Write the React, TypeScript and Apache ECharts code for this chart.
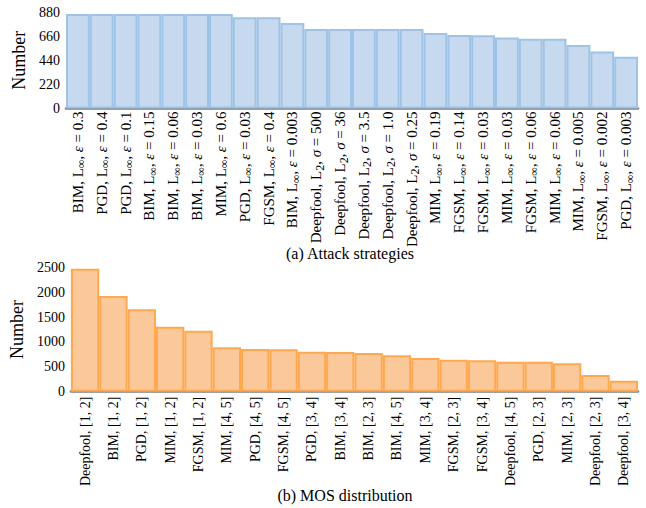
import React, { useEffect, useRef } from "react";
import * as echarts from "echarts";

// (a) Attack strategies
const attackMethods = ["BIM", "PGD", "PGD", "BIM", "BIM", "BIM", "MIM", "PGD", "FGSM", "BIM", "Deepfool", "Deepfool", "Deepfool", "Deepfool", "Deepfool", "MIM", "FGSM", "FGSM", "MIM", "FGSM", "MIM", "MIM", "FGSM", "PGD"];
const attackNorms = ["∞", "∞", "∞", "∞", "∞", "∞", "∞", "∞", "∞", "∞", "2", "2", "2", "2", "2", "∞", "∞", "∞", "∞", "∞", "∞", "∞", "∞", "∞"];
const attackParams = ["0.3", "0.4", "0.1", "0.15", "0.06", "0.03", "0.6", "0.03", "0.4", "0.003", "500", "36", "3.5", "1.0", "0.25", "0.19", "0.14", "0.03", "0.03", "0.06", "0.06", "0.005", "0.002", "0.003"];
const attackValues = [862, 862, 862, 862, 862, 862, 862, 831, 831, 780, 725, 725, 725, 725, 725, 688, 670, 668, 648, 636, 636, 578, 520, 471];

// (b) MOS distribution
const mosCategories = ["Deepfool, [1, 2]", "BIM, [1, 2]", "PGD, [1, 2]", "MIM, [1, 2]", "FGSM, [1, 2]", "MIM, [4, 5]", "PGD, [4, 5]", "FGSM, [4, 5]", "PGD, [3, 4]", "BIM, [3, 4]", "BIM, [2, 3]", "BIM, [4, 5]", "MIM, [3, 4]", "FGSM, [2, 3]", "FGSM, [3, 4]", "Deepfool, [4, 5]", "PGD, [2, 3]", "MIM, [2, 3]", "Deepfool, [2, 3]", "Deepfool, [3, 4]"];
const mosValues = [2470, 1924, 1656, 1307, 1226, 892, 858, 852, 805, 800, 778, 731, 677, 643, 631, 603, 603, 571, 336, 221];

const attackTicks = [0, 220, 440, 660, 880];
const mosTicks = [0, 500, 1000, 1500, 2000, 2500];

const FONT = "Liberation Serif";

export default function App() {
  const ref = useRef<HTMLDivElement>(null);
  useEffect(() => {
    const chart = echarts.init(ref.current!, undefined, { renderer: "svg" });
    const attackCats = attackMethods.map((m, i) => String(i));
    const attackLabel = (v: string) => {
      const i = Number(v);
      const sym = attackNorms[i] === "2" ? "σ" : "ε";
      return `{n|${attackMethods[i]}, L}{s|${attackNorms[i]}}{n|, }{i|${sym}}{n| = ${attackParams[i]}}`;
    };
    const rich = {
      n: { fontFamily: FONT, fontSize: 15, color: "#000" },
      s: { fontFamily: FONT, fontSize: 12, color: "#000", padding: [7, 0, 0, 0] },
      i: { fontFamily: FONT, fontSize: 15, fontStyle: "italic", color: "#000" },
    };
    const axisLine = { show: true, lineStyle: { color: "#808080", width: 2.5 } };
    const tickLabel = { fontFamily: FONT, fontSize: 14, color: "#000", margin: 6, formatter: (v: number) => String(v) };
    const nameStyle = { fontFamily: FONT, fontSize: 18, color: "#000" };
    chart.setOption({
      animation: false,
      textStyle: { fontFamily: FONT, color: "#000" },
      grid: [
        { left: 66, right: 8, top: 12, height: 96.5 },
        { left: 70, right: 8, top: 267.3, height: 124.4 },
      ],
      xAxis: [
        {
          type: "category", gridIndex: 0, data: attackCats,
          axisLine, axisTick: { show: false },
          axisLabel: { rotate: 90, interval: 0, margin: 3, fontFamily: FONT, fontSize: 15, color: "#000", formatter: attackLabel, rich },
        },
        {
          type: "category", gridIndex: 1, data: mosCategories,
          axisLine, axisTick: { show: false },
          axisLabel: { rotate: 90, interval: 0, margin: 5, fontFamily: FONT, fontSize: 14, color: "#000" },
        },
      ],
      yAxis: [
        {
          type: "value", gridIndex: 0, min: attackTicks[0], max: attackTicks[attackTicks.length - 1], interval: 220,
          axisLine: { show: false }, axisTick: { show: false }, splitLine: { show: false },
          axisLabel: tickLabel,
          name: "Number", nameLocation: "middle", nameGap: 31, nameTextStyle: nameStyle,
        },
        {
          type: "value", gridIndex: 1, min: mosTicks[0], max: mosTicks[mosTicks.length - 1], interval: 500,
          axisLine: { show: false }, axisTick: { show: false }, splitLine: { show: false },
          axisLabel: tickLabel,
          name: "Number", nameLocation: "middle", nameGap: 34, nameTextStyle: nameStyle,
        },
      ],
      series: [
        {
          type: "bar", xAxisIndex: 0, yAxisIndex: 0, data: attackValues, barCategoryGap: "0%",
          itemStyle: { color: "#c6d9ee", borderColor: "#9dc3e6", borderWidth: 2 },
        },
        {
          type: "bar", xAxisIndex: 1, yAxisIndex: 1, data: mosValues, barCategoryGap: "0%",
          itemStyle: { color: "#fbc999", borderColor: "#ffa84f", borderWidth: 2 },
        },
      ],
      graphic: [
        { type: "text", x: 350, y: 253, style: { text: "(a) Attack strategies", font: `16px '${FONT}'`, fill: "#000", align: "center", verticalAlign: "middle" } },
        { type: "text", x: 345, y: 495, style: { text: "(b) MOS distribution", font: `16px '${FONT}'`, fill: "#000", align: "center", verticalAlign: "middle" } },
      ],
    });
    return () => chart.dispose();
  }, []);
  return <div ref={ref} style={{ width: 646, height: 508, position: "absolute", left: 0, top: 0 }} />;
}
